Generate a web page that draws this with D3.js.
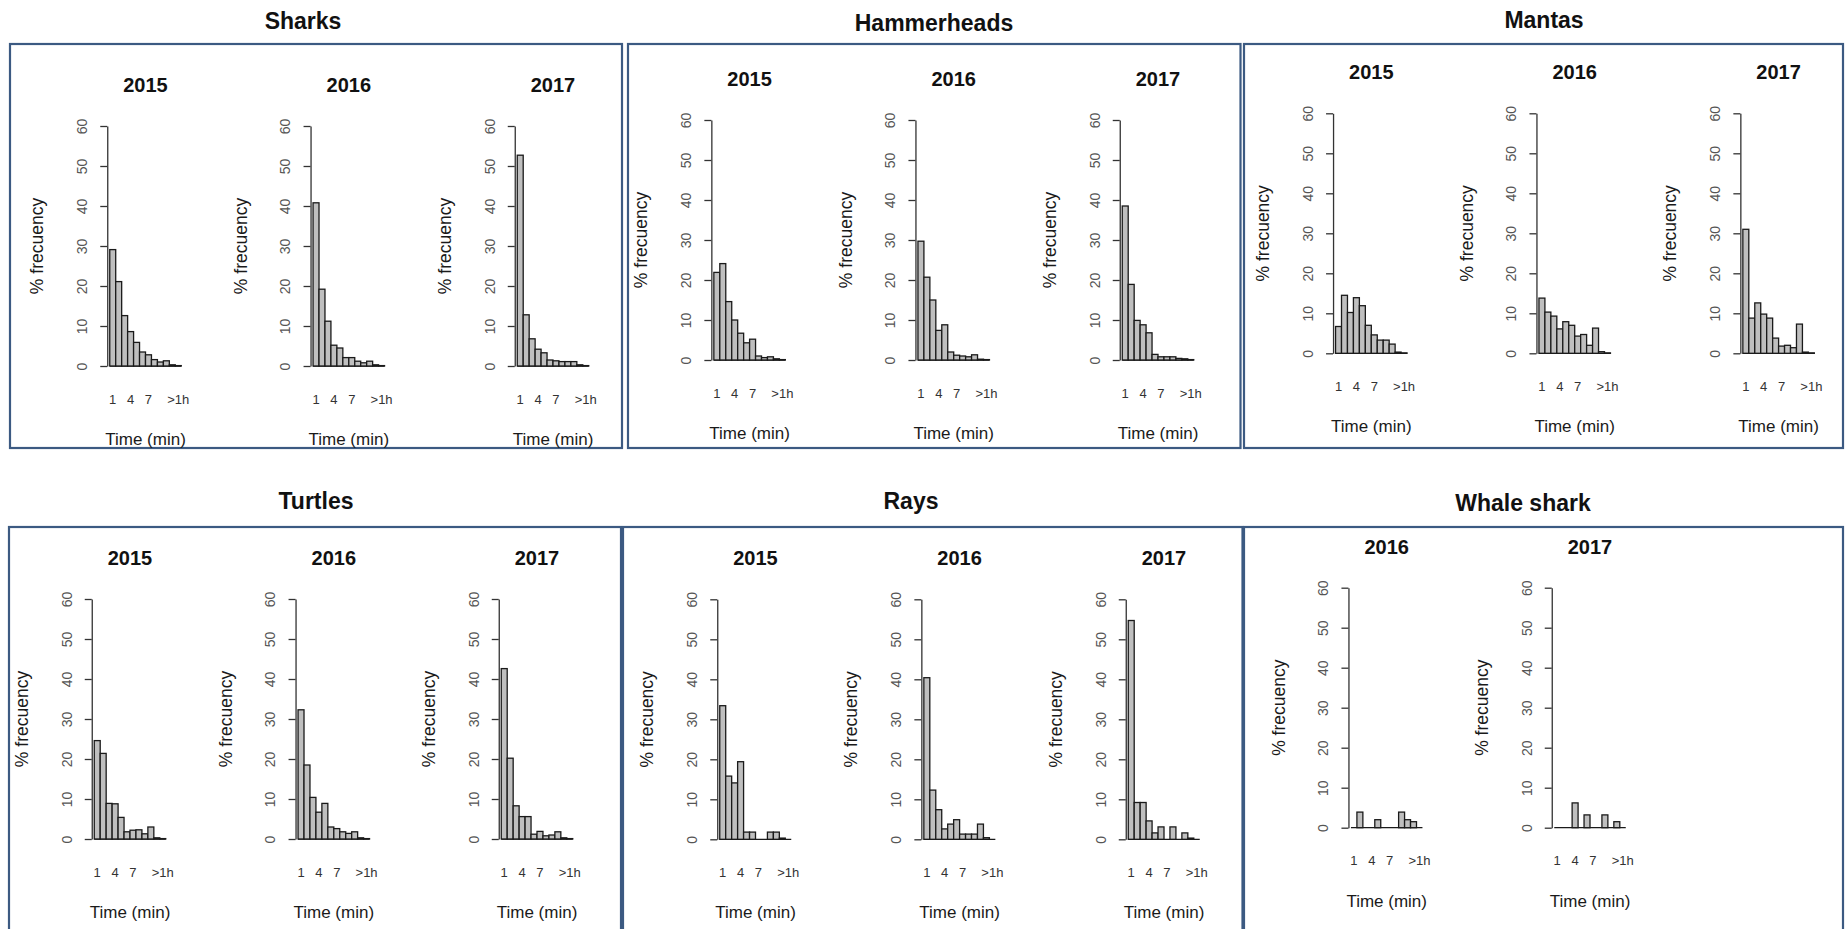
<!DOCTYPE html>
<html><head><meta charset="utf-8">
<script src="https://cdn.jsdelivr.net/npm/d3@7"></script>
<style>
body{margin:0;background:#fff}
svg{display:block}
text{font-family:"Liberation Sans",Arial,Helvetica,sans-serif}
</style>
</head><body>
<svg id="c" width="1845" height="929"></svg>
<script>
// ---------- data ----------
const categories = ["1","2","3","4","5","6","7","8","9","10","11",">1h"];
const tickLabels = ["1","4","7",">1h"];
const yTicks = [0,10,20,30,40,50,60];

const sharks2015 = [29.1,21.1,12.6,8.6,5.9,3.5,2.8,1.6,1.0,1.3,0.3,0.1];
const sharks2016 = [40.8,19.2,11.2,5.2,4.5,2.1,2.1,1.2,0.8,1.2,0.3,0.1];
const sharks2017 = [52.7,12.8,6.8,4.2,3.3,1.5,1.3,1.1,1.1,1.1,0.3,0.1];

const hammer2015 = [21.9,24.1,14.6,10.0,6.7,4.3,5.2,1.0,0.6,0.8,0.3,0.1];
const hammer2016 = [29.7,20.7,15.0,7.4,8.8,2.0,1.2,1.0,0.8,1.3,0.2,0.1];
const hammer2017 = [38.5,18.9,9.9,8.8,6.8,1.4,0.8,0.8,0.8,0.4,0.3,0.1];

const mantas2015 = [6.7,14.5,10.2,13.9,11.9,7.0,4.6,3.3,3.3,2.3,0.3,0.1];
const mantas2016 = [13.8,10.3,9.3,6.1,7.9,7.0,4.3,4.7,2.0,6.3,0.4,0.1];
const mantas2017 = [31.0,8.8,12.6,9.8,8.8,3.8,1.8,2.0,1.4,7.3,0.3,0.1];

const turtles2015 = [24.6,21.4,8.9,8.8,5.4,1.8,2.2,2.3,1.3,3.0,0.3,0.1];
const turtles2016 = [32.3,18.5,10.4,6.7,8.9,3.0,2.6,1.8,1.4,1.8,0.3,0.1];
const turtles2017 = [42.6,20.2,8.3,5.6,5.6,1.2,1.9,0.8,1.0,1.8,0.3,0.1];

const rays2015 = [33.4,15.8,14.1,19.4,1.8,1.8,0,0,1.8,1.8,0.3,0];
const rays2016 = [40.4,12.3,7.4,2.6,3.8,4.9,1.3,1.3,1.3,3.8,0.4,0];
const rays2017 = [54.7,9.2,9.2,4.6,1.6,3.1,0,3.1,0,1.6,0.3,0];

const whale2016 = [0,3.9,0,0,2.0,0,0,0,3.9,2.0,1.5,0];
const whale2017 = [0,0,0,6.2,0,3.2,0,0,3.2,0,1.5,0];

// ---------- layout ----------
const groups = [
  {title:"Sharks", tx:303, ty:21, box:[10,44,622,448], y0:366,
   panels:[{year:"2015",cx:145.5,values:sharks2015},{year:"2016",cx:348.8,values:sharks2016},{year:"2017",cx:553,values:sharks2017}]},
  {title:"Hammerheads", tx:934, ty:23, box:[628,44,1240.5,448], y0:360,
   panels:[{year:"2015",cx:749.6,values:hammer2015},{year:"2016",cx:953.7,values:hammer2016},{year:"2017",cx:1158,values:hammer2017}]},
  {title:"Mantas", tx:1544, ty:20, box:[1244,44,1843,448], y0:353.3,
   panels:[{year:"2015",cx:1371.3,values:mantas2015},{year:"2016",cx:1574.7,values:mantas2016},{year:"2017",cx:1778.6,values:mantas2017}]},
  {title:"Turtles", tx:316, ty:501, box:[9,527,621,960], y0:839,
   panels:[{year:"2015",cx:130,values:turtles2015},{year:"2016",cx:333.8,values:turtles2016},{year:"2017",cx:537,values:turtles2017}]},
  {title:"Rays", tx:911, ty:501, box:[623,527,1242.5,960], y0:839.3,
   panels:[{year:"2015",cx:755.5,values:rays2015},{year:"2016",cx:959.6,values:rays2016},{year:"2017",cx:1164,values:rays2017}]},
  {title:"Whale shark", tx:1523, ty:503, box:[1244,527,1843,960], y0:827.7,
   panels:[{year:"2016",cx:1386.7,values:whale2016},{year:"2017",cx:1590,values:whale2017}]}
];

const BAR_SPAN = 71.5, AX_H = 240;
const svg = d3.select("#c");
svg.append("rect").attr("width",1845).attr("height",929).attr("fill","#fff");

groups.forEach(g => {
  svg.append("rect")
    .attr("x", g.box[0]).attr("y", g.box[1])
    .attr("width", g.box[2]-g.box[0]).attr("height", g.box[3]-g.box[1])
    .attr("fill","none").attr("stroke","#3c5a82").attr("stroke-width",2.2);
  svg.append("text").attr("x", g.tx).attr("y", g.ty).attr("dy","0.35em")
    .attr("text-anchor","middle").attr("font-weight","bold").attr("font-size",23)
    .attr("fill","#111").text(g.title);

  g.panels.forEach(p => {
    const x = d3.scaleBand().domain(categories)
      .range([p.cx - BAR_SPAN/2, p.cx + BAR_SPAN/2]).padding(0);
    const y = d3.scaleLinear().domain([0,60]).range([g.y0, g.y0 - AX_H]);
    const gp = svg.append("g");
    const axisX = x.range()[0] - 2.5;

    gp.append("line")
      .attr("x1", x.range()[0]).attr("x2", x.range()[1])
      .attr("y1", y(0)).attr("y2", y(0))
      .attr("stroke","#1a1a1a").attr("stroke-width",1.3);

    gp.selectAll("rect.bar")
      .data(categories.map((c,i)=>({c, v:p.values[i]})).filter(d=>d.v>0))
      .join("rect").attr("class","bar")
      .attr("x", d=>x(d.c)).attr("width", x.bandwidth())
      .attr("y", d=>y(d.v)).attr("height", d=>y(0)-y(d.v))
      .attr("fill","#bfbfbf").attr("stroke","#1a1a1a").attr("stroke-width",1.3);

    const ya = gp.append("g").attr("transform",`translate(${axisX},0)`)
      .call(d3.axisLeft(y).tickValues(yTicks).tickSize(7).tickSizeOuter(0));
    ya.select(".domain").attr("stroke","#333").attr("stroke-width",1.3);
    ya.selectAll(".tick line").attr("stroke","#333").attr("stroke-width",1.3);
    ya.selectAll(".tick text")
      .attr("x",0).attr("dy","0.35em")
      .attr("transform","translate(-25,0) rotate(-90)")
      .attr("text-anchor","middle").attr("font-size",14)
      .attr("font-family",'"Liberation Sans",Arial,sans-serif').attr("fill","#555");

    const xa = gp.append("g").attr("transform",`translate(0,${y(0)})`)
      .call(d3.axisBottom(x).tickValues(tickLabels).tickSize(0));
    xa.select(".domain").remove();
    xa.selectAll(".tick text").attr("y",33).attr("dy","0.35em")
      .attr("font-size",13).attr("font-family",'"Liberation Sans",Arial,sans-serif').attr("fill","#333");

    gp.append("text").attr("x",p.cx).attr("y",y(60)-41).attr("dy","0.35em")
      .attr("text-anchor","middle").attr("font-weight","bold").attr("font-size",20)
      .attr("fill","#111").text(p.year);
    gp.append("text").attr("x",p.cx).attr("y",y(0)+73).attr("dy","0.35em")
      .attr("text-anchor","middle").attr("font-size",17).attr("fill","#1a1a1a").text("Time (min)");
    gp.append("text")
      .attr("transform",`translate(${axisX-70},${(y(0)+y(60))/2}) rotate(-90)`)
      .attr("dy","0.35em").attr("text-anchor","middle").attr("font-size",17.5)
      .attr("fill","#1a1a1a").text("% frecuency");
  });
});
</script>
</body></html>
